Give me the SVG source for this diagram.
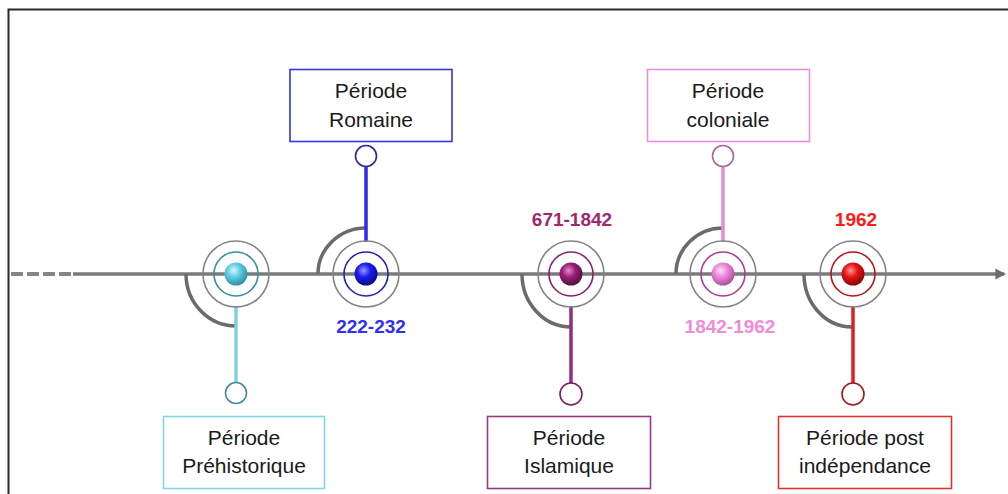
<svg xmlns="http://www.w3.org/2000/svg" width="1008" height="494" viewBox="0 0 1008 494">
<style>
.box{fill:#fff;stroke-width:1.6}
.lbl{font-family:"Liberation Sans",Arial,sans-serif;font-size:21px;fill:#1a1a1a;text-anchor:middle}
.date{font-family:"Liberation Sans",Arial,sans-serif;font-size:19px;font-weight:bold;text-anchor:middle}
.outer{fill:none;stroke:#858585;stroke-width:1.6}
.inner{fill:none;stroke-width:1.6}
.arc{fill:none;stroke:#6b6b6b;stroke-width:3.5;stroke-linecap:butt}
.stem{stroke-width:3.5}
.pin{fill:#fff;stroke-width:1.6}
</style>
<defs>
<radialGradient id="gC" cx="40%" cy="35%" r="65%"><stop offset="0" stop-color="#d9f6fc"/><stop offset="0.45" stop-color="#5fcde4"/><stop offset="1" stop-color="#2f8fa6"/></radialGradient>
<radialGradient id="gB" cx="40%" cy="35%" r="65%"><stop offset="0" stop-color="#9a9aff"/><stop offset="0.45" stop-color="#1c1cf0"/><stop offset="1" stop-color="#0a0a8a"/></radialGradient>
<radialGradient id="gM" cx="40%" cy="35%" r="65%"><stop offset="0" stop-color="#e48ccc"/><stop offset="0.45" stop-color="#9a1e78"/><stop offset="1" stop-color="#551040"/></radialGradient>
<radialGradient id="gP" cx="40%" cy="35%" r="65%"><stop offset="0" stop-color="#fde0f6"/><stop offset="0.45" stop-color="#ec86dc"/><stop offset="1" stop-color="#b050a0"/></radialGradient>
<radialGradient id="gR" cx="40%" cy="35%" r="65%"><stop offset="0" stop-color="#ff9a9a"/><stop offset="0.45" stop-color="#e81414"/><stop offset="1" stop-color="#8a0606"/></radialGradient>
<marker id="arr" viewBox="0 0 10 10" refX="8" refY="5" markerWidth="3" markerHeight="3.2" orient="auto" markerUnits="strokeWidth"><path d="M0,0 L10,5 L0,10 z" fill="#6e6e6e"/></marker>
</defs>
<rect width="1008" height="494" fill="#fff"/>
<path d="M8.5,494 V9.5 H1008" fill="none" stroke="#2a2a2a" stroke-width="2"/>

<g id="connectors">
<line x1="11" y1="274" x2="73" y2="274" stroke="#858585" stroke-width="4" stroke-dasharray="12 4"/>
<line x1="73" y1="274" x2="1004" y2="274" stroke="#7a7a7a" stroke-width="3.6" marker-end="url(#arr)"/>
</g>

<g id="node-prehistorique">
<path class="arc" d="M186,274 A50,52 0 0 0 236,326"/>
<line class="stem" x1="236" y1="306" x2="236" y2="383" stroke="#7fd0e2"/>
<circle class="pin" cx="236" cy="393" r="10.5" stroke="#468c9c"/>
<circle class="outer" cx="236" cy="274" r="33"/>
<circle class="inner" cx="236" cy="274" r="22" stroke="#3a8ea0"/>
<circle cx="236" cy="274" r="11.5" fill="url(#gC)"/>
<rect class="box" x="163.5" y="416.5" width="161" height="72" stroke="#80d6e6"/>
<text class="lbl" x="244" y="445">Période</text>
<text class="lbl" x="244" y="473">Préhistorique</text>
</g>

<g id="node-romaine">
<path class="arc" d="M318,274 A48,46 0 0 1 366,228"/>
<line class="stem" x1="366" y1="242" x2="366" y2="167" stroke="#2a2ae8"/>
<circle class="pin" cx="366" cy="156" r="10.5" stroke="#2a2a9c"/>
<circle class="outer" cx="366" cy="274" r="33"/>
<circle class="inner" cx="366" cy="274" r="22" stroke="#2424b0"/>
<circle cx="366" cy="274" r="11.5" fill="url(#gB)"/>
<rect class="box" x="290" y="69.5" width="162" height="72" stroke="#3434e6"/>
<text class="lbl" x="371" y="98">Période</text>
<text class="lbl" x="371" y="127">Romaine</text>
<text class="date" x="371" y="333" fill="#3030f0">222-232</text>
</g>

<g id="node-islamique">
<path class="arc" d="M522,274 A49,53 0 0 0 571,327"/>
<line class="stem" x1="571" y1="306" x2="571" y2="383" stroke="#9a2a7c"/>
<circle class="pin" cx="571" cy="394" r="11" stroke="#7a1e60"/>
<circle class="outer" cx="571" cy="274" r="33"/>
<circle class="inner" cx="571" cy="274" r="22" stroke="#8a2070"/>
<circle cx="571" cy="274" r="11.5" fill="url(#gM)"/>
<rect class="box" x="487.5" y="416.5" width="163" height="72" stroke="#9a3a80"/>
<text class="lbl" x="569" y="445">Période</text>
<text class="lbl" x="569" y="473">Islamique</text>
<text class="date" x="572" y="226" fill="#a0286e">671-1842</text>
</g>

<g id="node-coloniale">
<path class="arc" d="M676,274 A47,46 0 0 1 723,228"/>
<line class="stem" x1="723" y1="242" x2="723" y2="167" stroke="#e88ad4"/>
<circle class="pin" cx="723" cy="156" r="10.5" stroke="#a86898"/>
<circle class="outer" cx="723" cy="274" r="33"/>
<circle class="inner" cx="723" cy="274" r="22" stroke="#b03c98"/>
<circle cx="723" cy="274" r="11.5" fill="url(#gP)"/>
<rect class="box" x="647.5" y="69.5" width="162" height="72" stroke="#f090d8"/>
<text class="lbl" x="728" y="98">Période</text>
<text class="lbl" x="728" y="127">coloniale</text>
<text class="date" x="730" y="333" fill="#f08cd8">1842-1962</text>
</g>

<g id="node-1962">
<path class="arc" d="M804,274 A48,53 0 0 0 852,327"/>
<line class="stem" x1="853" y1="306" x2="853" y2="383" stroke="#e01e1e"/>
<circle class="pin" cx="853" cy="394" r="11" stroke="#a01818"/>
<circle class="outer" cx="853" cy="274" r="33"/>
<circle class="inner" cx="853" cy="274" r="22" stroke="#b81818"/>
<circle cx="853" cy="274" r="11.5" fill="url(#gR)"/>
<rect class="box" x="778.5" y="416.5" width="173" height="72" stroke="#e83030"/>
<text class="lbl" x="865" y="445">Période post</text>
<text class="lbl" x="865" y="473">indépendance</text>
<text class="date" x="856" y="226" fill="#ff1a1a">1962</text>
</g>
</svg>
